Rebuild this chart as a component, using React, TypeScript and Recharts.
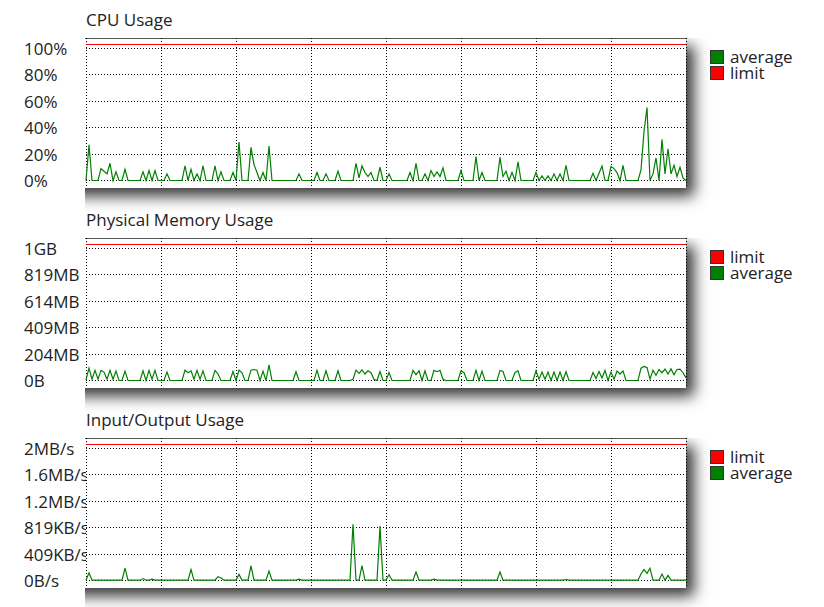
import React from "react";
import { LineChart, Line, XAxis, YAxis, CartesianGrid, ReferenceLine } from "recharts";

// one sample every ~3px across the plot, 201 samples
const cpuAverage = [
  0, 27, 0, 0, 0, 9, 7, 5, 13, 0,
  6.5, 0, 0, 8.5, 0, 0, 0, 0, 0, 6.5,
  0, 7.5, 0, 7.5, 0, 0, 0, 5, 0, 0,
  0, 0, 0, 11, 0, 8.5, 0, 5, 0, 11,
  0, 0, 0, 11, 0, 6.5, 0, 0, 0, 6,
  0, 29, 0, 0, 0, 25, 12, 6, 0, 6,
  0, 26, 0, 0, 0, 0, 0, 0, 0, 0,
  0, 5, 0, 0, 0, 0, 0, 6, 0, 0,
  5, 0, 0, 0, 7, 0, 0, 0, 0, 0,
  13, 2, 11, 6, 3, 6, 0, 0, 10, 0,
  0, 5, 0, 0, 0, 0, 0, 0, 6, 0,
  13, 0, 0, 5, 0, 7.5, 3, 6.5, 3, 9.5,
  0, 0, 0, 0, 0, 7.5, 0, 0, 0, 0,
  18, 0, 6, 0, 0, 0, 0, 0, 17.5, 3,
  7, 0, 6, 0, 14, 0, 0, 0, 0, 0,
  6, 0, 3.5, 0, 3.5, 0, 5, 0, 5, 0,
  11.5, 0, 0, 0, 0, 0, 0, 0, 0, 5.5,
  0, 5.5, 11, 0, 0, 10.5, 9, 6, 0, 11.5,
  0, 0, 0, 0, 0, 8, 37, 55, 0, 5,
  17, 0, 31, 5, 24, 5, 11.5, 3, 10, 2,
  0,
];

const memAverage = [
  5, 95, 10, 78, 10, 78, 65, 10, 78, 10,
  72, 0, 0, 72, 0, 0, 0, 0, 0, 75,
  0, 78, 10, 78, 0, 0, 0, 65, 0, 0,
  0, 0, 0, 80, 60, 75, 10, 78, 10, 75,
  0, 0, 0, 78, 50, 0, 0, 0, 0, 70,
  0, 80, 60, 0, 0, 80, 85, 80, 0, 72,
  0, 121, 0, 0, 0, 0, 0, 0, 0, 0,
  68, 0, 0, 0, 0, 0, 0, 78, 0, 0,
  75, 0, 0, 0, 75, 0, 0, 0, 0, 10,
  80, 55, 82, 50, 75, 60, 10, 0, 70, 0,
  0, 62, 0, 0, 0, 0, 0, 0, 0, 78,
  45, 75, 0, 75, 0, 0, 78, 68, 78, 10,
  0, 0, 0, 0, 0, 75, 60, 0, 0, 0,
  78, 0, 72, 0, 0, 0, 0, 0, 78, 70,
  0, 0, 0, 62, 75, 0, 0, 0, 0, 0,
  75, 10, 65, 10, 65, 0, 65, 0, 65, 0,
  68, 0, 0, 0, 0, 0, 0, 0, 0, 62,
  15, 70, 20, 78, 0, 65, 10, 72, 50, 75,
  0, 0, 0, 0, 0, 95, 108, 100, 10, 80,
  40, 85, 60, 88, 50, 90, 45, 85, 88, 60,
  20,
];

const ioAverage = [
  5, 120, 5, 5, 5, 5, 5, 5, 5, 5,
  5, 5, 5, 190, 5, 5, 5, 5, 5, 30,
  5, 5, 20, 5, 5, 5, 5, 5, 5, 5,
  5, 5, 5, 5, 5, 170, 5, 5, 5, 5,
  5, 5, 5, 5, 60, 40, 5, 5, 5, 5,
  5, 95, 5, 5, 5, 225, 5, 5, 5, 5,
  5, 145, 5, 5, 5, 5, 5, 5, 5, 5,
  5, 20, 5, 5, 5, 5, 5, 5, 5, 5,
  5, 5, 5, 5, 5, 5, 5, 5, 5, 870,
  5, 5, 230, 5, 5, 5, 5, 5, 840, 5,
  5, 90, 5, 5, 5, 5, 5, 5, 5, 5,
  130, 5, 5, 5, 5, 5, 20, 5, 5, 5,
  5, 5, 5, 5, 5, 5, 5, 5, 5, 5,
  5, 5, 5, 5, 5, 5, 5, 5, 130, 5,
  5, 5, 5, 5, 5, 5, 5, 5, 5, 5,
  5, 5, 5, 5, 5, 5, 5, 5, 5, 5,
  15, 5, 5, 5, 5, 5, 5, 5, 5, 5,
  5, 5, 5, 5, 5, 5, 5, 5, 5, 5,
  5, 5, 5, 5, 5, 100, 170, 110, 190, 5,
  5, 5, 100, 5, 80, 5, 5, 5, 5, 5,
  5,
];

const cpuTicks = [0, 20, 40, 60, 80, 100];
const cpuTickLabels = ["0%", "20%", "40%", "60%", "80%", "100%"];
const cpuLimit = 102.3;

const memTicks = [0, 204.8, 409.6, 614.4, 819.2, 1024];
const memTickLabels = ["0B", "204MB", "409MB", "614MB", "819MB", "1GB"];
const memLimit = 1047.5;

const ioTicks = [0, 409.6, 819.2, 1228.8, 1638.4, 2048];
const ioTickLabels = ["0B/s", "409KB/s", "819KB/s", "1.2MB/s", "1.6MB/s", "2MB/s"];
const ioLimit = 2095;

const timeTicks = [0, 25, 50, 75, 100, 125, 150, 175];

const FONT = "'Open Sans', sans-serif";
const GREEN = "#008000";
const RED = "#ff0000";

const legendColors: Record<string, string> = { average: GREEN, limit: RED };

function UsageChart({
  title,
  values,
  ticks,
  tickLabels,
  limit,
  legend,
  top,
}: {
  title: string;
  values: number[];
  ticks: number[];
  tickLabels: string[];
  limit: number;
  legend: string[];
  top: number;
}) {
  const data = values.map((v, i) => ({ t: i, average: v }));
  const max = ticks[ticks.length - 1];
  const domain = [-max * 0.0566, max * 1.0755];

  // labels are clipped where the plot box starts, as in the original
  const Tick = (props: any) => {
    const { y, payload } = props;
    const k = ticks.indexOf(payload.value);
    return (
      <svg x={0} y={y - 14} width={86} height={28} overflow="hidden">
        <text x={24} y={20.5} fill="#222" fontSize={17} fontFamily={FONT}>
          {tickLabels[k]}
        </text>
      </svg>
    );
  };

  return (
    <div style={{ position: "absolute", left: 0, top, width: 824, height: 200 }}>
      <div
        style={{
          position: "absolute",
          left: 85,
          top: 38,
          width: 700,
          height: 200,
          overflow: "hidden",
        }}
      >
        <div
          style={{
            position: "absolute",
            left: -30,
            top: 0,
            width: 631,
            height: 150,
            boxSizing: "border-box",
            background: "#fff",
            borderTop: "1px solid #555",
            boxShadow: "8px 8px 14px rgba(0,0,0,0.8)",
          }}
        />
      </div>
      <div
        style={{
          position: "absolute",
          left: 86,
          top: 11,
          fontSize: 17,
          lineHeight: "17px",
          color: "#222",
          fontFamily: FONT,
        }}
      >
        {title}
      </div>
      <div style={{ position: "absolute", left: 0, top: 0 }}>
        <LineChart width={824} height={200} data={data} margin={{ top: 38, right: 138, bottom: 12, left: 0 }}>
          <CartesianGrid
            stroke="#000"
            strokeDasharray="1 2"
            shapeRendering="crispEdges"
            horizontalValues={ticks}
          />
          <XAxis dataKey="t" type="number" domain={[0, 200]} ticks={timeTicks} hide />
          <YAxis
            type="number"
            domain={domain}
            allowDataOverflow
            ticks={ticks}
            interval={0}
            width={86}
            axisLine={false}
            tickLine={false}
            tick={<Tick />}
          />
          <ReferenceLine y={limit} stroke={RED} strokeWidth={1} shapeRendering="crispEdges" />
          <Line
            type="linear"
            dataKey="average"
            stroke={GREEN}
            strokeWidth={1.2}
            dot={false}
            activeDot={false}
            isAnimationActive={false}
          />
        </LineChart>
      </div>
      <div style={{ position: "absolute", left: 710, top: 49, fontFamily: FONT }}>
        {legend.map((name) => (
          <div key={name} style={{ display: "flex", alignItems: "center", height: 16 }}>
            <span
              style={{
                display: "inline-block",
                width: 14,
                height: 14,
                boxSizing: "border-box",
                background: legendColors[name],
                border: "1px solid #333",
                marginRight: 6,
              }}
            />
            <span style={{ fontSize: 17, lineHeight: "16px", color: "#222" }}>{name}</span>
          </div>
        ))}
      </div>
    </div>
  );
}

export default function App() {
  return (
    <div
      style={{
        position: "absolute",
        left: 0,
        top: 0,
        width: 824,
        height: 607,
        background: "#fff",
        fontFamily: FONT,
        overflow: "hidden",
      }}
    >
      <UsageChart
        title="CPU Usage"
        values={cpuAverage}
        ticks={cpuTicks}
        tickLabels={cpuTickLabels}
        limit={cpuLimit}
        legend={["average", "limit"]}
        top={0}
      />
      <UsageChart
        title="Physical Memory Usage"
        values={memAverage}
        ticks={memTicks}
        tickLabels={memTickLabels}
        limit={memLimit}
        legend={["limit", "average"]}
        top={200}
      />
      <UsageChart
        title="Input/Output Usage"
        values={ioAverage}
        ticks={ioTicks}
        tickLabels={ioTickLabels}
        limit={ioLimit}
        legend={["limit", "average"]}
        top={400}
      />
    </div>
  );
}
